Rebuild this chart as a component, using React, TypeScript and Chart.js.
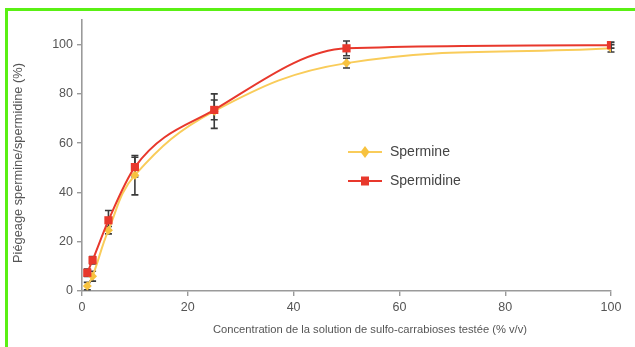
import React, { useEffect, useRef } from "react";
import { Chart, registerables } from "chart.js";

Chart.register(...registerables);

const concentrations = [1, 2, 5, 10, 25, 50, 100];
const spermine = [2, 6, 24.7, 47, 73, 92.5, 98.5];
const spermineErr = [1.5, 2, 1.5, 8, 7, 2, 1.5];
const spermidine = [7.4, 12.5, 28.7, 50.3, 73.5, 98.5, 99.8];
const spermidineErr = [1.5, 1.5, 4, 4, 4, 3, 1.2];
const xTicks = [0, 20, 40, 60, 80, 100];
const yTicks = [0, 20, 40, 60, 80, 100];

const seriesNames = ["Spermine", "Spermidine"];
const yellow = "#f7c23f";
const yellowLine = "#f9cc5a";
const red = "#e8382c";
const FONT = "'Liberation Sans', Arial, sans-serif";

const errorBarsPlugin = {
  id: "errorBars",
  beforeDatasetsDraw(chart: any) {
    const { ctx, scales } = chart;
    const sets = [
      { vals: spermine, errs: spermineErr },
      { vals: spermidine, errs: spermidineErr },
    ];
    ctx.save();
    ctx.strokeStyle = "#3a3a3a";
    ctx.lineWidth = 1.6;
    sets.forEach((s) => {
      concentrations.forEach((c, i) => {
        const x = scales.x.getPixelForValue(c);
        const y1 = scales.y.getPixelForValue(s.vals[i] + s.errs[i]);
        const y2 = scales.y.getPixelForValue(s.vals[i] - s.errs[i]);
        ctx.beginPath();
        ctx.moveTo(x, y1);
        ctx.lineTo(x, y2);
        ctx.moveTo(x - 3.5, y1);
        ctx.lineTo(x + 3.5, y1);
        ctx.moveTo(x - 3.5, y2);
        ctx.lineTo(x + 3.5, y2);
        ctx.stroke();
      });
    });
    ctx.restore();
  },
};

const decorPlugin = {
  id: "decor",
  afterDraw(chart: any) {
    const { ctx } = chart;
    ctx.save();
    ctx.fillStyle = "#555";
    ctx.textAlign = "center";
    ctx.textBaseline = "middle";
    ctx.font = `11.2px ${FONT}`;
    ctx.fillText("Concentration de la solution de sulfo-carrabioses testée (% v/v)", 370, 330);
    ctx.save();
    ctx.translate(18, 163);
    ctx.rotate(-Math.PI / 2);
    ctx.font = `12.8px ${FONT}`;
    ctx.fillText("Piégeage spermine/spermidine (%)", 0, 0);
    ctx.restore();

    const items = [
      { name: seriesNames[0], color: yellowLine, mark: yellow, style: "diamond", y: 152 },
      { name: seriesNames[1], color: red, mark: red, style: "square", y: 181 },
    ];
    items.forEach((it) => {
      ctx.strokeStyle = it.color;
      ctx.lineWidth = 2.2;
      ctx.beginPath();
      ctx.moveTo(348, it.y);
      ctx.lineTo(382, it.y);
      ctx.stroke();
      ctx.fillStyle = it.mark;
      ctx.beginPath();
      if (it.style === "diamond") {
        ctx.moveTo(365, it.y - 6);
        ctx.lineTo(369.5, it.y);
        ctx.lineTo(365, it.y + 6);
        ctx.lineTo(360.5, it.y);
        ctx.closePath();
      } else {
        ctx.rect(361, it.y - 4.5, 8, 9);
      }
      ctx.fill();
      ctx.fillStyle = "#444";
      ctx.textAlign = "left";
      ctx.font = `14px ${FONT}`;
      ctx.fillText(it.name, 390, it.y);
    });
    ctx.restore();
  },
};

export default function App() {
  const ref = useRef<HTMLCanvasElement | null>(null);
  useEffect(() => {
    document.body.style.margin = "0";
    const chart = new Chart(ref.current as HTMLCanvasElement, {
      type: "line",
      data: {
        datasets: [
          {
            label: seriesNames[1],
            data: concentrations.map((c, i) => ({ x: c, y: spermidine[i] })),
            borderColor: red,
            backgroundColor: red,
            borderWidth: 2,
            pointStyle: "rect",
            pointRadius: 5.8,
            pointBorderWidth: 0,
            cubicInterpolationMode: "monotone",
            order: 0,
          },
          {
            label: seriesNames[0],
            data: concentrations.map((c, i) => ({ x: c, y: spermine[i] })),
            borderColor: yellowLine,
            backgroundColor: yellow,
            borderWidth: 2,
            pointStyle: "rectRot",
            pointRadius: 4.5,
            pointBorderWidth: 0,
            tension: 0.4,
            order: 1,
          },
        ],
      },
      options: {
        animation: false,
        responsive: false,
        maintainAspectRatio: false,
        layout: { padding: { left: 0, right: 24, top: 20, bottom: 0 } },
        plugins: { legend: { display: false }, tooltip: { enabled: false } },
        scales: {
          x: {
            type: "linear",
            min: 0,
            max: 100,
            afterFit: (s: any) => {
              s.height = 56;
            },
            afterBuildTicks: (s: any) => {
              s.ticks = xTicks.map((v) => ({ value: v }));
            },
            border: { display: true, color: "#9a9a9a", width: 1.6 },
            grid: { display: true, drawOnChartArea: false, drawTicks: true, tickLength: 5, color: "#9a9a9a", lineWidth: 1.4 },
            ticks: { color: "#555", font: { family: FONT, size: 12.5 }, padding: 4, maxRotation: 0 },
          },
          y: {
            type: "linear",
            min: 0,
            max: 110,
            afterFit: (s: any) => {
              s.width = 82;
            },
            afterBuildTicks: (s: any) => {
              s.ticks = yTicks.map((v) => ({ value: v }));
            },
            border: { display: true, color: "#9a9a9a", width: 1.6 },
            grid: { display: true, drawOnChartArea: false, drawTicks: true, tickLength: 5, color: "#9a9a9a", lineWidth: 1.4 },
            ticks: { color: "#555", font: { family: FONT, size: 12.5 }, padding: 4 },
          },
        },
      },
      plugins: [errorBarsPlugin, decorPlugin],
    } as any);
    return () => chart.destroy();
  }, []);

  return (
    <div style={{ position: "fixed", left: 0, top: 0, width: 635, height: 347, background: "#fff" }}>
      <div
        style={{
          position: "absolute",
          left: 5,
          top: 8,
          width: 630,
          height: 339,
          borderTop: "3px solid #5af014",
          borderLeft: "3px solid #5af014",
          boxSizing: "border-box",
        }}
      />
      <canvas ref={ref} width={635} height={347} style={{ position: "absolute", left: 0, top: 0, width: 635, height: 347 }} />
    </div>
  );
}
